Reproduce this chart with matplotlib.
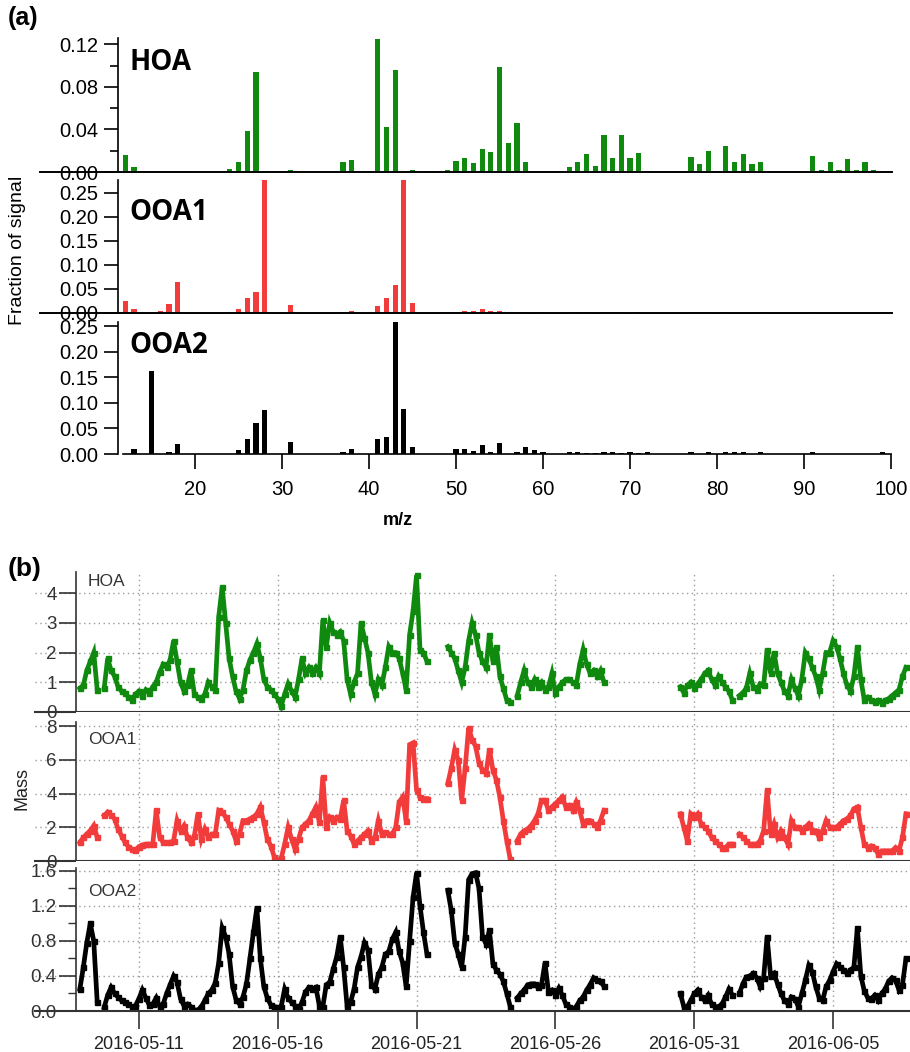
import numpy as np
import pandas as pd
import matplotlib
matplotlib.use("Agg")
import matplotlib.pyplot as plt
import matplotlib.dates as mdates
from matplotlib.ticker import MultipleLocator, FormatStrFormatter

nan = np.nan

# ---- (a) mass spectra, fraction of signal for m/z 12..100
mz = list(range(12, 101))
hoa_ms = [
    0.016, 0.005, 0.0005, 0.0005, 0.0005, 0.0005, 0.0005, 0.0005, 0, 0,
    0, 0, 0.0025, 0.009, 0.039, 0.094, 0.0005, 0.0005, 0.0005, 0.002,
    0, 0, 0, 0, 0, 0.009, 0.011, 0, 0, 0.125,
    0.042, 0.096, 0.001, 0.002, 0, 0.0005, 0.001, 0.002, 0.010, 0.013,
    0.0085, 0.022, 0.019, 0.099, 0.027, 0.046, 0.009, 0.001, 0.0005, 0.001,
    0.001, 0.005, 0.009, 0.017, 0.006, 0.035, 0.013, 0.035, 0.013, 0.018,
    0.001, 0.001, 0.001, 0.001, 0.001, 0.014, 0.0075, 0.020, 0.001, 0.024,
    0.009, 0.017, 0.0075, 0.009, 0.001, 0.001, 0.001, 0.001, 0, 0.015,
    0.002, 0.009, 0.002, 0.012, 0.002, 0.009, 0.002, 0.001, 0,
]
ooa1_ms = [
    0.024, 0.008, 0.001, 0.001, 0.004, 0.018, 0.065, 0.001, 0.001, 0,
    0, 0, 0.003, 0.008, 0.031, 0.044, 0.28, 0.001, 0.001, 0.017,
    0, 0, 0, 0, 0, 0.003, 0.005, 0, 0, 0.014,
    0.031, 0.058, 0.28, 0.021, 0.001, 0.001, 0.001, 0.002, 0.002, 0.004,
    0.004, 0.008, 0.004, 0.004, 0.002, 0.002, 0.002, 0.001, 0.002, 0.001,
    0.001, 0.002, 0.002, 0.002, 0.001, 0.002, 0.002, 0.002, 0.001, 0.002,
    0.001, 0.001, 0.001, 0.001, 0.001, 0.002, 0.002, 0.002, 0.001, 0.002,
    0.001, 0.001, 0.001, 0.002, 0.001, 0.001, 0.001, 0.001, 0.001, 0.002,
    0.001, 0.001, 0.001, 0.001, 0.001, 0.001, 0.001, 0.002, 0.001,
]
ooa2_ms = [
    0, 0.010, 0, 0.162, 0, 0.003, 0.019, 0, 0, 0,
    0, 0, 0, 0.008, 0.030, 0.061, 0.086, 0, 0, 0.023,
    0, 0, 0, 0, 0, 0.004, 0.010, 0, 0, 0.030,
    0.033, 0.258, 0.087, 0.014, 0, 0, 0, 0, 0.010, 0.009,
    0.006, 0.017, 0.004, 0.021, 0, 0.004, 0.014, 0.008, 0.003, 0,
    0, 0.003, 0.003, 0.002, 0.002, 0.003, 0.003, 0.002, 0.003, 0.002,
    0.003, 0, 0, 0, 0, 0.003, 0, 0.003, 0, 0.003,
    0.003, 0.003, 0, 0.003, 0, 0, 0, 0, 0, 0.003,
    0, 0, 0, 0, 0, 0, 0, 0.003, 0,
]
mz_ticks = [20, 30, 40, 50, 60, 70, 80, 90, 100]

# ---- (b) time series, 3-hourly from 2016-05-08 21:00 (one row per day)
start_time = "2016-05-08 21:00"
hoa_mass = [
    0.8,
    0.9, 1.4, 1.7, 2.0, 0.75, nan, 0.8, 1.8,          # 05-09
    1.4, 1.2, 0.85, 0.7, 0.65, 0.5, 0.4, 0.6,
    0.7, 0.55, 0.75, 0.65, 0.85, 1.0, 1.35, 1.6,      # 05-11
    1.5, 1.75, 2.4, 1.7, 1.0, 0.7, 0.9, 1.4,
    0.6, 0.5, 0.45, 0.6, 1.0, 0.85, 0.75, 3.2,
    4.2, 3.0, 1.8, 1.2, 0.7, 0.45, 0.75, 1.4,
    1.75, 2.0, 2.3, 1.8, 1.1, 0.85, 0.75, 0.6,
    0.45, 0.2, 0.6, 0.95, 0.7, 0.5, 1.1, 1.8,         # 05-16
    1.3, 1.5, 1.3, 1.5, 1.3, 3.1, 2.2, 3.0,
    2.7, 2.6, 2.7, 2.4, 1.1, 0.6, 1.0, 1.3,
    3.0, 2.5, 2.0, 1.0, 0.6, 1.1, 0.9, 1.5,
    2.2, 2.0, 2.0, 1.8, 1.3, 0.75, 2.6, 3.4,
    4.6, 2.1, 2.0, 1.7, nan, nan, nan, nan,           # 05-21
    nan, 2.2, 2.0, 1.8, 1.4, 1.0, 1.5, 2.4,
    3.0, 2.6, 2.0, 1.7, 1.5, 2.6, 1.7, 2.2,
    1.2, 0.8, 0.4, 0.35, nan, 0.55, 1.0, 1.4,
    1.0, 0.85, 1.1, 0.85, 1.0, 0.75, 0.85, 1.3,
    0.65, 0.85, 1.0, 1.1, 1.1, 1.0, 0.9, 1.6,         # 05-26
    2.1, 1.6, 1.3, 1.4, 1.2, 1.4, 1.0, nan,
    nan, nan, nan, nan, nan, nan, nan, nan,
    nan, nan, nan, nan, nan, nan, nan, nan,
    nan, nan, nan, nan, 0.85, 0.65, 0.9, 1.0,
    0.8, 0.95, 1.1, 1.3, 1.4, 1.1, 0.9, 1.2,          # 05-31
    1.0, 0.85, 0.7, 0.4, nan, 0.55, 0.65, 0.8,
    1.3, 0.85, 0.75, 0.95, 0.9, 2.1, 1.3, 2.0,
    1.3, 1.0, 0.7, 0.55, 1.1, 0.8, 0.55, 1.1,
    2.0, 1.8, 1.5, 1.2, 0.75, 1.3, 2.0, 2.0,
    2.4, 2.2, 1.8, 1.3, 0.9, 0.7, 1.2, 2.2,           # 06-05
    1.1, 0.4, 0.5, 0.4, 0.35, 0.4, 0.3, 0.4,
    0.45, 0.55, 0.65, 0.75, 1.2, 1.5,
]
ooa1_mass = [
    1.1,
    1.4, 1.6, 1.8, 2.1, 1.4, nan, 2.7, 2.9,
    2.7, 2.5, 1.9, 1.5, 1.1, 0.85, 0.7, 0.65,
    0.85, 0.95, 1.0, 1.0, 1.0, 3.0, 1.4, 1.1,
    1.1, 1.1, 1.2, 2.4, 1.8, 2.1, 1.4, 1.1,
    1.5, 2.8, 1.3, 1.9, 1.4, 1.6, 1.6, 3.0,
    2.9, 2.6, 2.2, 1.8, 1.2, 1.6, 2.4, 2.4,
    2.5, 2.6, 2.8, 3.2, 2.3, 1.3, 0.9, 0.25,
    0.05, 0.15, 1.0, 2.0, 1.3, 0.7, 1.3, 2.0,
    2.2, 2.4, 2.8, 3.2, 2.3, 5.0, 2.0, 2.6,
    2.4, 2.6, 2.5, 3.6, 1.8, 1.5, 1.0, 1.2,
    1.4, 1.6, 1.8, 1.2, 1.4, 2.4, 1.6, 1.7,
    1.6, 1.6, 2.0, 3.5, 3.8, 2.4, 6.9, 7.0,
    4.2, 3.8, 3.7, 3.7, nan, nan, nan, nan,
    nan, 4.6, 5.5, 6.6, 6.0, 3.6, 5.5, 7.9,
    7.2, 6.8, 5.8, 5.4, 5.2, 6.6, 5.4, 4.8,
    3.8, 2.4, 1.2, 0.1, nan, 1.2, 1.6, 1.8,
    1.9, 2.1, 2.4, 2.8, 3.6, 3.6, 3.0, 3.2,
    3.4, 3.6, 3.8, 3.2, 3.3, 3.0, 3.5, 3.0,
    2.2, 2.4, 2.4, 2.2, 2.0, 2.4, 3.0, nan,
    nan, nan, nan, nan, nan, nan, nan, nan,
    nan, nan, nan, nan, nan, nan, nan, nan,
    nan, nan, nan, nan, 2.8, 2.0, 1.2, 2.8,
    2.6, 2.8, 2.2, 2.0, 1.8, 1.4, 1.2, 1.0,
    0.8, 0.8, 1.0, 1.0, nan, 1.6, 1.4, 1.2,
    1.0, 1.0, 1.0, 1.2, 1.8, 4.2, 1.6, 2.2,
    1.4, 1.8, 1.4, 1.0, 2.4, 2.0, 2.0, 1.8,
    2.0, 2.2, 1.8, 1.8, 1.4, 1.8, 2.4, 2.0,
    2.0, 2.0, 2.2, 2.4, 2.5, 2.7, 3.1, 3.2,
    2.0, 1.0, 0.8, 0.9, 0.8, 0.4, 0.6, 0.6,
    0.6, 0.6, 0.8, 0.6, 1.4, 2.8,
]
ooa2_mass = [
    0.25,
    0.5, 0.78, 1.0, 0.8, 0.1, nan, 0.04, 0.18,
    0.27, 0.2, 0.16, 0.12, 0.1, 0.08, 0.05, 0.06,
    0.14, 0.24, 0.15, 0.07, 0.08, 0.15, 0.05, 0.08,
    0.2, 0.3, 0.4, 0.33, 0.14, 0.06, 0.08, 0.05,
    0.01, 0.01, 0.05, 0.12, 0.2, 0.24, 0.32, 0.55,
    0.95, 0.85, 0.65, 0.28, 0.13, 0.08, 0.16, 0.31,
    0.6, 0.9, 1.18, 0.6, 0.28, 0.15, 0.07, 0.05,
    0.04, 0.05, 0.25, 0.15, 0.1, 0.06, 0.02, 0.1,
    0.22, 0.27, 0.25, 0.27, 0.06, 0.05, 0.3, 0.33,
    0.48, 0.62, 0.85, 0.5, 0.05, 0.1, 0.25, 0.5,
    0.62, 0.78, 0.7, 0.3, 0.25, 0.42, 0.5, 0.65,
    0.68, 0.82, 0.9, 0.68, 0.55, 0.28, 0.8, 1.3,
    1.58, 1.2, 0.9, 0.65, nan, nan, nan, nan,
    nan, 1.38, 1.15, 0.78, 0.65, 0.5, 0.85, 1.5,
    1.57, 1.58, 1.4, 0.85, 0.77, 0.92, 0.54, 0.47,
    0.42, 0.34, 0.2, 0.05, nan, 0.15, 0.2, 0.24,
    0.3, 0.31, 0.31, 0.27, 0.3, 0.55, 0.22, 0.24,
    0.18, 0.26, 0.18, 0.08, 0.05, 0.01, 0.05, 0.12,
    0.16, 0.24, 0.3, 0.38, 0.35, 0.34, 0.28, nan,
    nan, nan, nan, nan, nan, nan, nan, nan,
    nan, nan, nan, nan, nan, nan, nan, nan,
    nan, nan, nan, nan, 0.2, 0.05, 0.05, 0.12,
    0.2, 0.24, 0.16, 0.12, 0.18, 0.08, 0.05, 0.05,
    0.08, 0.16, 0.25, 0.18, nan, 0.2, 0.31, 0.39,
    0.4, 0.43, 0.38, 0.28, 0.38, 0.85, 0.4, 0.43,
    0.31, 0.2, 0.12, 0.08, 0.16, 0.14, 0.05, 0.2,
    0.35, 0.52, 0.45, 0.28, 0.15, 0.12, 0.28, 0.35,
    0.45, 0.54, 0.5, 0.47, 0.43, 0.47, 0.5, 0.95,
    0.4, 0.23, 0.15, 0.14, 0.18, 0.12, 0.2, 0.25,
    0.34, 0.38, 0.35, 0.24, 0.3, 0.6,
]
date_ticks = ["2016-05-11", "2016-05-16", "2016-05-21",
              "2016-05-26", "2016-05-31", "2016-06-05"]

factors = ["HOA", "OOA1", "OOA2"]
colors = ["#0f8a0f", "#f23c3c", "black"]

plt.rcParams["font.family"] = ["Liberation Sans", "DejaVu Sans"]

W, H = 910, 1052
fig = plt.figure(figsize=(W / 100, H / 100), dpi=100)


def box(left, right, top, bottom):
    # pixel box -> figure fraction
    return [left / W, 1 - bottom / H, (right - left) / W, (bottom - top) / H]


# ---------------- (a)
spec = [hoa_ms, ooa1_ms, ooa2_ms]
a_boxes = [(38, 172), (180, 313), (322, 454)]
a_ylims = [0.126, 0.277, 0.258]
a_steps = [0.04, 0.05, 0.05]
a_text_y = [62, 212, 345]
for i in range(3):
    top, bot = a_boxes[i]
    ax = fig.add_axes(box(118, 892, top, bot))
    ax.bar(mz, spec[i], width=0.6, color=colors[i], zorder=2)
    ax.set_xlim(11.15, 100.1)
    ax.set_ylim(0, a_ylims[i])
    for s in ["top", "right"]:
        ax.spines[s].set_visible(False)
    ax.spines["left"].set_linewidth(1.2)
    ax.yaxis.set_major_locator(MultipleLocator(a_steps[i]))
    ax.yaxis.set_major_formatter(FormatStrFormatter("%.2f"))
    if i == 0:
        ax.yaxis.set_minor_locator(MultipleLocator(0.02))
    ax.tick_params(axis="y", direction="out", length=10, width=1.2, pad=4,
                   labelsize=14.5)
    ax.tick_params(axis="y", which="minor", direction="out", length=6, width=1.2)
    if i < 2:
        ax.spines["bottom"].set_visible(False)
        ax.tick_params(axis="x", bottom=False, labelbottom=False)
        ax.plot([-0.101, 1], [0, 0], transform=ax.get_yaxis_transform(),
                color="black", lw=1.4, clip_on=False, zorder=3)
    else:
        ax.spines["bottom"].set_bounds(11.7, 100)
        ax.spines["bottom"].set_linewidth(1.2)
        ax.set_xticks(mz_ticks)
        ax.tick_params(axis="x", direction="out", length=11, width=1.2, pad=8,
                       labelsize=14.5)
    fig.text(129 / W, 1 - a_text_y[i] / H, factors[i], fontsize=20,
             fontweight="bold", family=["Open Sans", "DejaVu Sans"], va="center")

fig.text(18 / W, 1 - 250 / H, "Fraction of signal", rotation=90, fontsize=14,
         ha="center", va="center")
fig.text(398 / W, 1 - 521 / H, "m/z", fontsize=13, fontweight="bold",
         ha="center", va="center")
fig.text(8 / W, 1 - 18 / H, "(a)", fontsize=18, fontweight="bold", va="center")

# ---------------- (b)
times = pd.date_range(start_time, periods=len(hoa_mass), freq="3h")
series = [hoa_mass, ooa1_mass, ooa2_mass]
b_boxes = [(572, 712), (712, 861), (861, 1011)]
b_ylims = [4.71, 8.83, 1.714]
b_spine_top = [4.71, 8.24, 1.634]
b_steps = [1, 2, 0.4]
b_text_y = [582, 740, 891]
tick_dates = pd.to_datetime(date_ticks)
t_lo = pd.Timestamp("2016-05-08 17:40")
t_hi = pd.Timestamp("2016-06-07 18:30")
grid_c = "#9a9a9a"
for i in range(3):
    top, bot = b_boxes[i]
    ax = fig.add_axes(box(76, 910, top, bot))
    ax.plot(times, series[i], "-", color=colors[i], lw=3.4, marker="s", ms=3.6,
            solid_joinstyle="miter", zorder=3)
    ax.set_xlim(t_lo, t_hi)
    ax.set_ylim(0, b_ylims[i])
    for s in ["top", "right", "bottom"]:
        ax.spines[s].set_visible(False)
    ax.spines["left"].set_bounds(0, b_spine_top[i])
    ax.spines["left"].set_color("#333333")
    ax.spines["left"].set_linewidth(1.2)
    yt = np.arange(0, b_spine_top[i] + 1e-6, b_steps[i])
    ax.set_yticks(yt)
    if i == 2:
        ax.yaxis.set_major_formatter(FormatStrFormatter("%.1f"))
        ax.yaxis.set_minor_locator(MultipleLocator(0.2))
        ax.tick_params(axis="y", which="minor", direction="out", length=6,
                       width=1, color="#333333")
    ax.tick_params(axis="y", direction="out", length=12, width=1.2, pad=2,
                   labelsize=13.5, color="#333333", labelcolor="#333333")
    for y in yt[1:]:
        ax.plot([-0.049, 1], [y, y], transform=ax.get_yaxis_transform(),
                color=grid_c, lw=1, ls=(0, (1, 2.5)), clip_on=False, zorder=0.5)
    ax.plot([-0.049, 1], [0, 0], transform=ax.get_yaxis_transform(),
            color="#333333", lw=1.5, clip_on=False, zorder=4)
    ax.set_xticks(tick_dates)
    ax.grid(axis="x", color=grid_c, lw=1, ls=(0, (1, 2.5)))
    if i < 2:
        ax.tick_params(axis="x", bottom=False, labelbottom=False)
    else:
        ax.xaxis.set_major_formatter(mdates.DateFormatter("%Y-%m-%d"))
        ax.tick_params(axis="x", direction="out", length=13, width=1.2, pad=5,
                       labelsize=13, color="#333333", labelcolor="#222222")
    fig.text(88 / W, 1 - b_text_y[i] / H, factors[i], fontsize=12.5,
             color="#333333", va="center")

fig.text(22 / W, 1 - 788 / H, "Mass", rotation=90, fontsize=13, ha="center",
         va="center", color="#222222")
fig.text(8 / W, 1 - 569 / H, "(b)", fontsize=19, fontweight="bold", va="center")

fig.savefig("out.png", dpi=100)
